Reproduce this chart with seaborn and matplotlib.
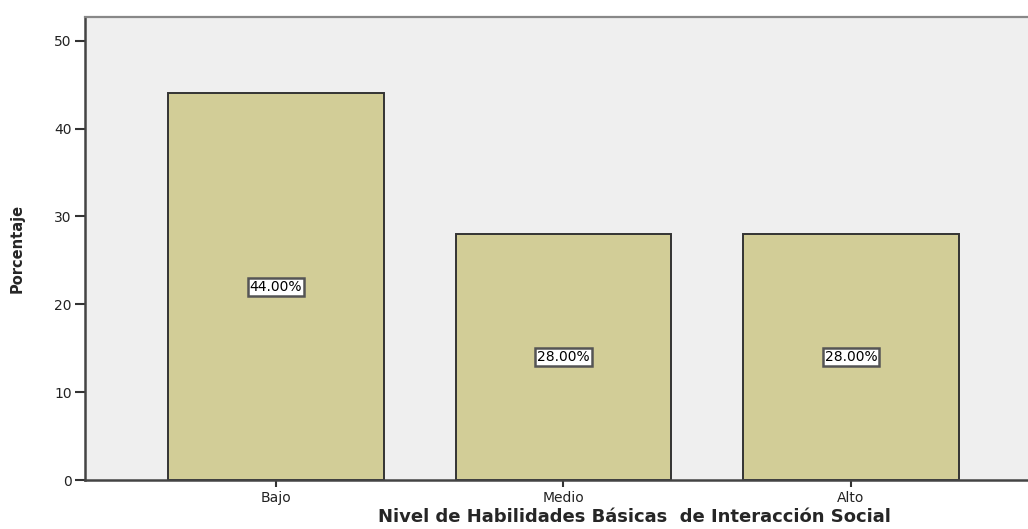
import matplotlib
matplotlib.use("Agg")
import matplotlib.pyplot as plt
import seaborn as sns
import pandas as pd

categories = ["Bajo", "Medio", "Alto"]
percentages = [44.0, 28.0, 28.0]
labels = ["44.00%", "28.00%", "28.00%"]

sns.set_theme(style="white")
plt.rcParams['font.family'] = ['DejaVu Sans']

df = pd.DataFrame({"Nivel": categories, "Porcentaje": percentages})

fig = plt.figure(figsize=(10.28, 5.29), dpi=100)
ax = fig.add_axes([85/1028, 1 - 480/529, 1 - 85/1028, (480 - 17)/529])
ax.set_facecolor("#EFEFEF")

sns.barplot(data=df, x="Nivel", y="Porcentaje", order=categories, color="#D2CD97",
            saturation=1, width=0.75, edgecolor="#333333", linewidth=1.4, ax=ax)

ax.set_xlim(-0.664, 2.616)
ax.set_ylim(0, 52.7)
ax.set_yticks([0, 10, 20, 30, 40, 50])

for i, (v, lab) in enumerate(zip(percentages, labels)):
    ax.text(i, v / 2, lab, ha="center", va="center", fontsize=10, color="black",
            bbox=dict(boxstyle="square,pad=0.15", facecolor="white", edgecolor="#555555", linewidth=1.8))

for s in ["left", "bottom"]:
    ax.spines[s].set_color("#444444")
    ax.spines[s].set_linewidth(1.8)
ax.spines["top"].set_color("#888888")
ax.spines["top"].set_linewidth(1.6)
ax.spines["right"].set_visible(False)

ax.tick_params(axis="y", direction="out", length=7.5, width=1.5, color="#333333", labelsize=10, labelcolor="#222222", left=True, pad=2)
ax.tick_params(axis="x", direction="out", length=5, width=1.5, color="#333333", labelsize=10, labelcolor="#222222", bottom=True, pad=3)

ax.set_ylabel("Porcentaje", fontsize=10.5, fontweight="bold")
ax.yaxis.set_label_coords(-0.0635, 0.5)
ax.set_xlabel("Nivel de Habilidades Básicas  de Interacción Social", fontsize=13, fontweight="bold")
ax.xaxis.set_label_coords(0.583, -0.06)

fig.savefig("out.png", dpi=100)
